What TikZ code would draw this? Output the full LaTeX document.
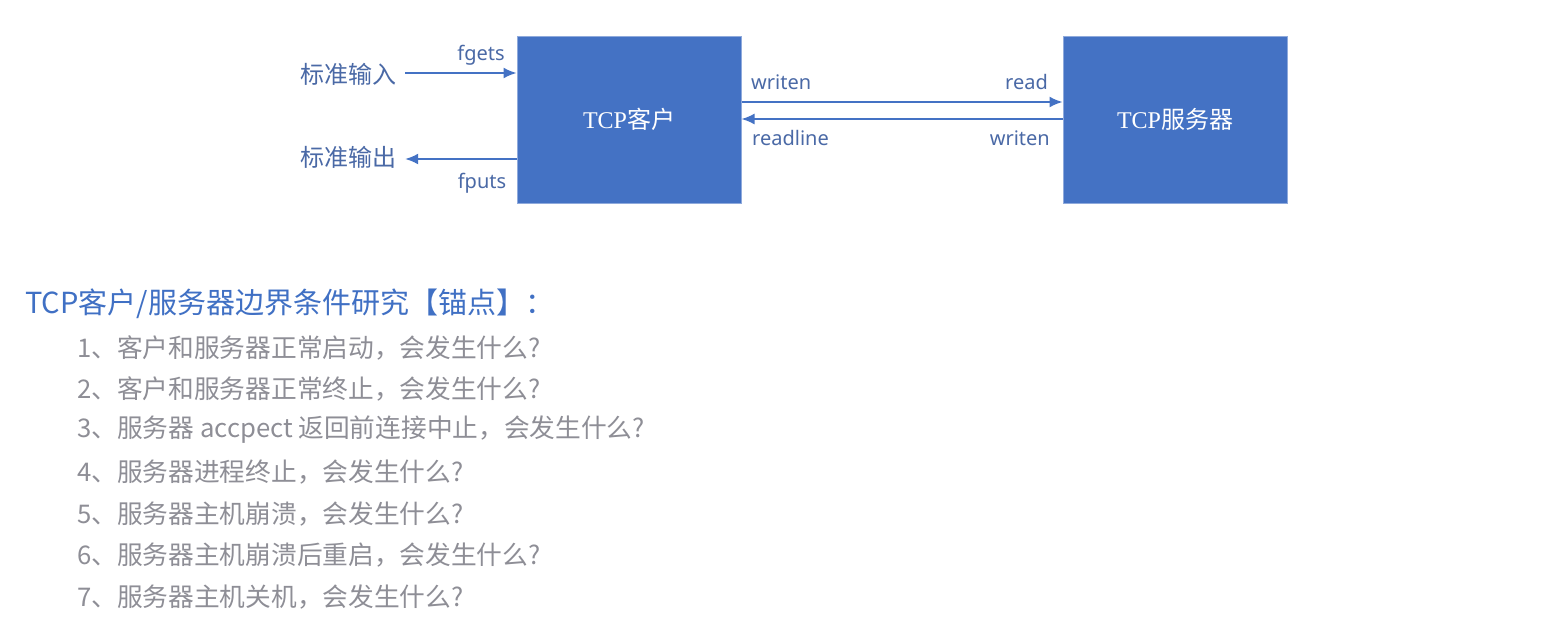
\documentclass[tikz,border=0pt]{standalone}
\usepackage{fontspec}
\usepackage{tikz}
\usetikzlibrary{arrows.meta}
\newfontfamily\cjk{Noto Sans CJK SC}
\newfontfamily\lab{Noto Sans}
\newfontfamily\tcp{Liberation Serif}
\definecolor{boxblue}{HTML}{4472C4}
\definecolor{boxedge}{HTML}{8FAADC}
\definecolor{labblue}{HTML}{4A69A6}
\definecolor{headblue}{HTML}{4070C4}
\definecolor{itemgray}{HTML}{8E8E96}
\tikzstyle{host}=[fill=boxblue,draw=boxedge,line width=1pt,minimum width=224pt,minimum height=167pt,text=white,font=\fontsize{24}{28}\selectfont]
\tikzstyle{io}=[text=labblue,font=\cjk\fontsize{24}{28}\selectfont,inner xsep=9pt,inner ysep=4pt]
\tikzstyle{call}=[text=labblue,font=\lab\fontsize{20}{24}\selectfont,inner sep=0pt]
\tikzstyle{flow}=[draw=boxblue,line width=1.8pt,-{Latex[length=13pt,width=11pt]}]
\tikzstyle{item}=[anchor=west,inner sep=0pt,text=itemgray,font=\cjk\fontsize{25.7}{30}\selectfont]

\begin{document}
\begin{tikzpicture}[x=1pt,y=-1pt]
\useasboundingbox[fill=white] (0,0) rectangle (1547,630);
\node[host] (cli) at ( 629 , 119.5 ){{\tcp TCP}{\cjk 客户}};
\node[host] (srv) at ( 1175 , 119.5 ){{\tcp TCP}{\cjk 服务器}};
\node[io] (stdin) at ( 348 , 74 ){标准输入};
\node[io] (stdout) at ( 348 , 157 ){标准输出};
\draw[flow] ([yshift=1pt]stdin.east) -- ([yshift=46.5pt]cli.west);
\draw[flow] ([yshift=-39.5pt]cli.west) -- ([yshift=-2pt]stdout.east);
\draw[flow] ([yshift=17.5pt]cli.east) -- ([yshift=17.5pt]srv.west);
\draw[flow] ([yshift=0.5pt]srv.west) -- ([yshift=0.5pt]cli.east);
\node[call] (fgets) at ( 481 , 55 ){fgets};
\node[call] (fputs) at ( 482 , 183 ){fputs};
\node[call,anchor=west] (cwrite) at ( 751 , 82 ){writen};
\node[call,anchor=east] (sread) at ( 1048 , 82 ){read};
\node[call,anchor=west] (cread) at ( 752 , 138 ){readline};
\node[call,anchor=east] (swrite) at ( 1050 , 138 ){writen};
\node[anchor=west,inner sep=0pt,text=headblue,font=\cjk\fontsize{29}{34}\selectfont] (head) at ( 25 , 304 ){TCP客户/服务器边界条件研究【锚点】：};
\node[item] (q1) at ( 77 , 348 ){1、客户和服务器正常启动，会发生什么?};
\node[item] (q2) at ( 77 , 389 ){2、客户和服务器正常终止，会发生什么?};
\node[item] (q3) at ( 77 , 430 ){3、服务器 accpect 返回前连接中止，会发生什么?};
\node[item] (q4) at ( 77 , 472 ){4、服务器进程终止，会发生什么?};
\node[item] (q5) at ( 77 , 514 ){5、服务器主机崩溃，会发生什么?};
\node[item] (q6) at ( 77 , 555 ){6、服务器主机崩溃后重启，会发生什么?};
\node[item] (q7) at ( 77 , 597 ){7、服务器主机关机，会发生什么?};
\end{tikzpicture}
\end{document}
